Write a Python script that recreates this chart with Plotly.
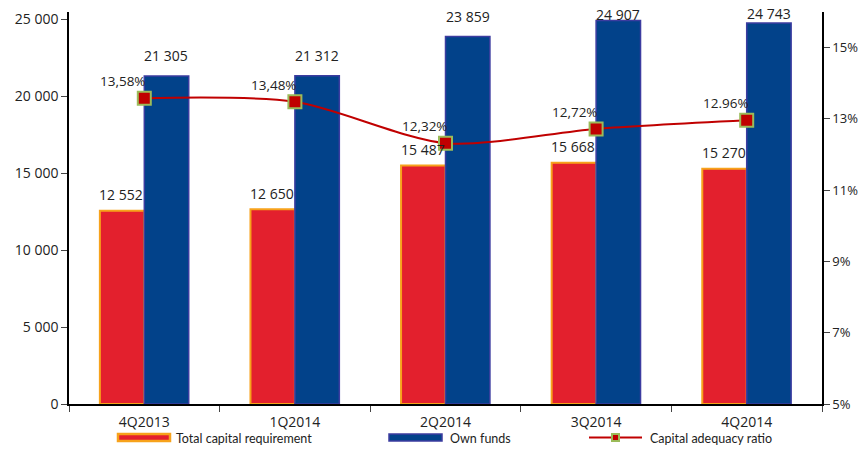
import plotly.graph_objects as go

categories = ["4Q2013", "1Q2014", "2Q2014", "3Q2014", "4Q2014"]
total_capital_requirement = [12552, 12650, 15487, 15668, 15270]
own_funds = [21305, 21312, 23859, 24907, 24743]
capital_adequacy_ratio = [13.58, 13.48, 12.32, 12.72, 12.96]
ratio_labels = ["13,58%", "13,48%", "12,32%", "12,72%", "12.96%"]
left_ticks = [0, 5000, 10000, 15000, 20000, 25000]
right_ticks = [5, 7, 9, 11, 13, 15]
right_tick_labels = ["5%", "7%", "9%", "11%", "13%", "15%"]

FONT = "Open Sans"
TXT = "#222222"
RED = "#e3202d"
ORANGE = "#f7a21b"
BLUE = "#02428a"
BLUE_EDGE = "#3c3ca0"
LINE = "#c00000"
GREEN = "#9bbb59"

Y_MAX = 25455
x0, x1, ytop, ybot = 69, 822, 12, 404

fig = go.Figure()
fig.add_trace(go.Bar(x=categories, y=total_capital_requirement, name="Total capital requirement",
                     marker=dict(color=RED, line=dict(color=ORANGE, width=2)), showlegend=False,
                     hoverinfo="skip"))
fig.add_trace(go.Bar(x=categories, y=own_funds, name="Own funds",
                     marker=dict(color=BLUE, line=dict(color=BLUE_EDGE, width=1.5)), showlegend=False,
                     hoverinfo="skip"))
fig.add_trace(go.Scatter(x=categories, y=capital_adequacy_ratio, name="Capital adequacy ratio",
                         yaxis="y2", mode="lines+markers",
                         line=dict(color=LINE, width=2, shape="spline", smoothing=0.8),
                         marker=dict(symbol="square", size=13, color=LINE, line=dict(color=GREEN, width=2)),
                         showlegend=False, cliponaxis=False, hoverinfo="skip"))

annotations = []
def fmt(v):
    return f"{v:,}".replace(",", " ")

for c, v in zip(categories, total_capital_requirement):
    annotations.append(dict(x=c, y=v, xref="x", yref="y", text=fmt(v),
                            showarrow=False, xshift=-23, yshift=16,
                            font=dict(family=FONT, size=14, color=TXT)))
for c, v in zip(categories, own_funds):
    top_px = ybot - v * (ybot - ytop) / Y_MAX
    shift = 20 if top_px - 20 >= 14 else top_px - 14
    annotations.append(dict(x=c, y=v, xref="x", yref="y", text=fmt(v),
                            showarrow=False, xshift=22, yshift=shift,
                            font=dict(family=FONT, size=14, color=TXT)))
for c, v, t in zip(categories, capital_adequacy_ratio, ratio_labels):
    annotations.append(dict(x=c, y=v, xref="x", yref="y2", text=t,
                            showarrow=False, xshift=-21, yshift=17,
                            font=dict(family=FONT, size=13.5, color=TXT)))

# manual legend
def px(x):
    return (x - x0) / (x1 - x0)
def py(y):
    return (ybot - y) / (ybot - ytop)

shapes = [
    dict(type="rect", xref="paper", yref="paper", x0=px(118), x1=px(170), y0=py(441), y1=py(434),
         fillcolor=RED, line=dict(color=ORANGE, width=2.5)),
    dict(type="rect", xref="paper", yref="paper", x0=px(389), x1=px(442), y0=py(441), y1=py(434),
         fillcolor=BLUE, line=dict(color=BLUE_EDGE, width=1.5)),
    dict(type="line", xref="paper", yref="paper", x0=px(589), x1=px(642), y0=py(437.5), y1=py(437.5),
         line=dict(color=LINE, width=2)),
    dict(type="rect", xref="paper", yref="paper", x0=px(612), x1=px(619), y0=py(441), y1=py(434),
         fillcolor=LINE, line=dict(color=GREEN, width=2)),
]
for xt, t in [(174, "Total capital requirement"), (448, "Own funds"), (648, "Capital adequacy ratio")]:
    annotations.append(dict(x=px(xt), y=py(438), xref="paper", yref="paper", text=t, showarrow=False,
                            xanchor="left", yanchor="middle", font=dict(family="Lato", size=12.5, color=TXT)))

fig.update_layout(
    width=861, height=476,
    margin=dict(l=69, r=39, t=12, b=72),
    paper_bgcolor="white", plot_bgcolor="white",
    barmode="group", bargap=0.41, bargroupgap=0,
    separators=", ",
    hovermode=False,
    font=dict(family=FONT, size=13, color=TXT),
    xaxis=dict(type="category", showline=True, linecolor="black", linewidth=1.5, automargin=False,
               ticks="outside", tickson="boundaries", ticklen=6, tickcolor="#444", ticklabelstandoff=4,
               tickfont=dict(family=FONT, size=14, color=TXT), showgrid=False, zeroline=False),
    yaxis=dict(range=[0, Y_MAX], tickvals=left_ticks, tickformat=",d", showline=True, linecolor="black",
               linewidth=1.5, ticks="outside", ticklen=6, tickcolor="#444", showgrid=False, zeroline=False,
               automargin=False, tickfont=dict(family=FONT, size=14, color=TXT)),
    yaxis2=dict(range=[5, 16], overlaying="y", side="right", tickvals=right_ticks, ticktext=right_tick_labels,
                showline=True, linecolor="black", linewidth=1.5, ticks="outside", ticklen=6, tickcolor="#444",
                automargin=False, showgrid=False, zeroline=False, tickfont=dict(family=FONT, size=13, color=TXT)),
    shapes=shapes, annotations=annotations,
)

fig.write_html("out.html", config={"displayModeBar": False},
               post_script="document.body.style.margin='0';")
